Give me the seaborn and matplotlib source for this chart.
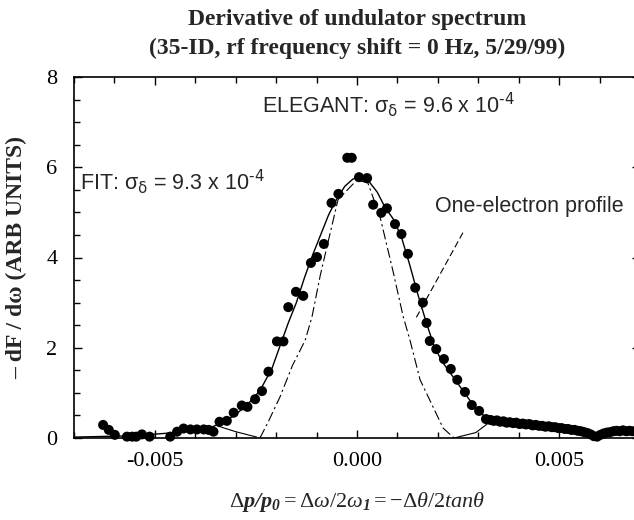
import matplotlib
matplotlib.use("Agg")
import matplotlib.pyplot as plt
import seaborn as sns
import pandas as pd
from matplotlib.ticker import MultipleLocator, FixedLocator

# ---------------- data ----------------
data_x = [-0.00628, -0.00614, -0.00599, -0.00569, -0.00556, -0.00546, -0.00532, -0.00513,
          -0.00462, -0.00445, -0.00429, -0.00412, -0.00396, -0.00379, -0.00367, -0.00355,
          -0.00340, -0.00322, -0.00305, -0.00285, -0.00271, -0.00252, -0.00235, -0.00219,
          -0.00198, -0.00182, -0.00170, -0.00151, -0.00133, -0.00114, -0.00099, -0.00082,
          -0.00063, -0.00046, -0.00024, -0.00013, 0.00005, 0.00025, 0.00040, 0.00060,
          0.00074, 0.00094, 0.00110, 0.00126, 0.00144, 0.00163, 0.00172, 0.00180,
          0.00196, 0.00215, 0.00232, 0.00248, 0.00267, 0.00284, 0.00302, 0.00319,
          0.00330, 0.00338, 0.00346, 0.00354, 0.00362, 0.00370, 0.00378, 0.00386,
          0.00394, 0.00402, 0.00410, 0.00418, 0.00426, 0.00434, 0.00442, 0.00450,
          0.00458, 0.00466, 0.00474, 0.00482, 0.00490, 0.00498, 0.00506, 0.00514,
          0.00522, 0.00530, 0.00538, 0.00546, 0.00554, 0.00562, 0.00570, 0.00578,
          0.00586, 0.00594, 0.00602, 0.00610, 0.00618, 0.00626, 0.00634, 0.00642,
          0.00650, 0.00658, 0.00666, 0.00674, 0.00682]
data_y = [0.29, 0.18, 0.07, 0.03, 0.03, 0.03, 0.08, 0.03,
          0.03, 0.14, 0.21, 0.19, 0.19, 0.19, 0.18, 0.14,
          0.36, 0.38, 0.56, 0.72, 0.69, 0.86, 1.04, 1.47,
          2.14, 2.14, 2.90, 3.24, 3.15, 3.88, 4.01, 4.30,
          5.21, 5.41, 6.21, 6.21, 5.78, 5.76, 5.17, 4.99,
          5.09, 4.74, 4.52, 4.08, 3.33, 3.00, 2.55, 2.15,
          1.97, 1.75, 1.53, 1.29, 1.02, 0.73, 0.60, 0.42,
          0.40, 0.38, 0.39, 0.36, 0.37, 0.34, 0.35, 0.33,
          0.34, 0.31, 0.32, 0.30, 0.31, 0.28, 0.29, 0.27,
          0.27, 0.25, 0.26, 0.24, 0.24, 0.22, 0.22, 0.20,
          0.20, 0.18, 0.18, 0.16, 0.15, 0.13, 0.11, 0.08,
          0.04, 0.03, 0.07, 0.10, 0.12, 0.13, 0.15, 0.16,
          0.15, 0.17, 0.15, 0.16, 0.15]

fit_x = [-0.0070, -0.0065, -0.0055, -0.0045, -0.0040, -0.0036, -0.0033, -0.0030, -0.0027,
         -0.0024, -0.0021, -0.0019, -0.0017, -0.0015, -0.0013, -0.0011, -0.0009, -0.0007,
         -0.0005, -0.0003, -0.0001, 0.0001, 0.0003, 0.0005, 0.0007, 0.0009, 0.0011,
         0.0013, 0.0015, 0.0017, 0.0019, 0.0021, 0.0023, 0.0025, 0.0027, 0.0029, 0.0031,
         0.0033, 0.0036, 0.0040, 0.0045, 0.0050, 0.0055, 0.0059, 0.0062, 0.0066, 0.0070]
fit_y = [0.02, 0.03, 0.05, 0.12, 0.17, 0.24, 0.35, 0.52, 0.75,
         1.05, 1.55, 2.05, 2.55, 3.00, 3.55, 4.05, 4.50, 4.95,
         5.30, 5.58, 5.74, 5.78, 5.68, 5.45, 5.10, 4.85, 4.45,
         3.85, 3.20, 2.60, 2.05, 1.70, 1.45, 1.20, 0.95, 0.70, 0.52,
         0.42, 0.37, 0.32, 0.27, 0.22, 0.16, 0.07, 0.11, 0.15, 0.15]

one_main_x = [-0.0024, -0.0022, -0.0019, -0.0016, -0.00128, -0.00111, -0.00091, -0.00047,
              0.0, 0.00027, 0.00057, 0.00089, 0.00114, 0.00131, 0.00156, 0.0018, 0.00213, 0.0024]
one_main_y = [0.0, 0.35, 0.92, 1.60, 2.17, 2.70, 3.60, 5.28,
              5.72, 5.65, 4.90, 3.70, 2.70, 2.17, 1.29, 0.84, 0.22, 0.0]

lobe_left_x = [-0.00346, -0.00300, -0.00248]
lobe_left_y = [0.27, 0.14, 0.02]
lobe_right_x = [0.00240, 0.00294, 0.00335]
lobe_right_y = [0.0, 0.12, 0.40]

leader_x = [0.00262, 0.00146]
leader_y = [4.55, 2.66]

x_ticks = [-0.005, 0.0, 0.005]
x_tick_labels = ["-0.005", "0.000", "0.005"]
y_ticks = [0, 2, 4, 6, 8]

title_lines = ["Derivative of undulator spectrum",
               "(35-ID, rf frequency shift = 0 Hz, 5/29/99)"]
y_label = "– dF / dω (ARB UNITS)"
x_label = r"$\Delta\mathbfit{p/p_0} = \Delta\omega/2\omega_\mathbfit{1} = -\Delta\theta/2\mathit{tan}\theta$"
elegant_text = r"ELEGANT: σ$_\mathrm{δ}$ = 9.6 x 10$^\text{-4}$"
fit_text = r"FIT: σ$_\mathrm{δ}$ = 9.3 x 10$^\text{-4}$"
one_text = "One-electron profile"

# ---------------- style ----------------
sns.set_style("ticks")
plt.rcParams["font.family"] = ["Liberation Serif", "DejaVu Serif"]
plt.rcParams["axes.unicode_minus"] = False
plt.rcParams["mathtext.fontset"] = "custom"
plt.rcParams["mathtext.rm"] = "Liberation Serif"
plt.rcParams["mathtext.it"] = "Liberation Serif:italic"
plt.rcParams["mathtext.bf"] = "Liberation Serif:bold"
plt.rcParams["mathtext.bfit"] = "Liberation Serif:italic:bold"

W, H = 634, 520
fig = plt.figure(figsize=(W / 100, H / 100), dpi=100)
ax = fig.add_axes([74 / W, 82 / H, 566 / W, 361 / H])

df = pd.DataFrame({"x": data_x, "y": data_y})
fit_df = pd.DataFrame({"x": fit_x, "y": fit_y})

sns.lineplot(data=fit_df, x="x", y="y", ax=ax, color="black", lw=1.0,
             sort=False, estimator=None, zorder=2)
ax.plot(one_main_x, one_main_y, color="black", lw=0.8,
        linestyle=(0, (9, 3, 2, 3)), zorder=2)
ax.plot(lobe_left_x, lobe_left_y, color="black", lw=0.8, zorder=2)
ax.plot(lobe_right_x, lobe_right_y, color="black", lw=0.8, zorder=2)
ax.plot(leader_x, leader_y, color="black", lw=0.8, linestyle=(0, (6, 3)), zorder=2)
sns.scatterplot(data=df, x="x", y="y", ax=ax, color="black", s=52,
                edgecolor="none", linewidth=0, clip_on=False, zorder=3)

ax.set_xlim(-0.007, 0.007)
ax.set_ylim(0, 8)
ax.xaxis.set_major_locator(FixedLocator(x_ticks))
ax.set_xticklabels(x_tick_labels)
ax.xaxis.set_minor_locator(MultipleLocator(0.001))
ax.yaxis.set_major_locator(FixedLocator(y_ticks))
ax.yaxis.set_minor_locator(MultipleLocator(0.5))
ax.tick_params(which="both", direction="in", top=True, right=True,
               width=1.0, colors="black", labelsize=16)
ax.tick_params(which="major", length=6)
ax.tick_params(which="minor", length=4)
ax.tick_params(axis="x", pad=10)
ax.tick_params(axis="y", pad=12)
for s in ax.spines.values():
    s.set_linewidth(1.2)
    s.set_color("black")

ax.set_xlabel(x_label, fontsize=16)
ax.xaxis.set_label_coords(0.5, -0.145)
ax.set_ylabel(y_label, fontsize=17, fontweight="bold")
ax.yaxis.set_label_coords(-0.082, 0.5)

fig.text(357 / W, 1 - 20 / H, title_lines[0], ha="center", va="center",
         fontsize=17, fontweight="bold")
fig.text(357 / W, 1 - 48 / H, title_lines[1], ha="center", va="center",
         fontsize=17, fontweight="bold")

sans = ["Liberation Sans", "DejaVu Sans"]
t1 = ax.text(-0.00235, 7.38, elegant_text, ha="left", va="center", fontsize=15.5,
             family=sans)
t1.set_math_fontfamily("dejavusans")
t2 = ax.text(-0.00686, 5.68, fit_text, ha="left", va="center", fontsize=15.5,
             family=sans)
t2.set_math_fontfamily("dejavusans")
ax.text(0.00193, 5.12, one_text, ha="left", va="center", fontsize=15.5, family=sans)

fig.savefig("out.png", dpi=100)
